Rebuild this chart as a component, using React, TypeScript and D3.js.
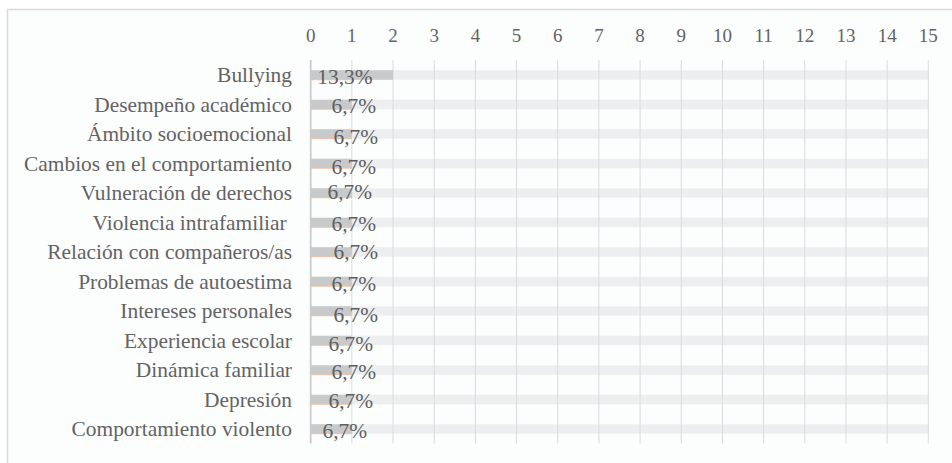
import React from "react";
import * as d3 from "d3";

// Categories (top to bottom) and number of mentions
const categories = [
  "Bullying",
  "Desempeño académico",
  "Ámbito socioemocional",
  "Cambios en el comportamiento",
  "Vulneración de derechos",
  "Violencia intrafamiliar ",
  "Relación con compañeros/as",
  "Problemas de autoestima",
  "Intereses personales",
  "Experiencia escolar",
  "Dinámica familiar",
  "Depresión",
  "Comportamiento violento",
];
const counts = [2, 1, 1, 1, 1, 1, 1, 1, 1, 1, 1, 1, 1];
const percentLabels = [
  "13,3%", "6,7%", "6,7%", "6,7%", "6,7%", "6,7%", "6,7%",
  "6,7%", "6,7%", "6,7%", "6,7%", "6,7%", "6,7%",
];
const axisMax = 15;
const tickValues = d3.range(0, 16);

// Hand-placed label offsets (px) around the end of the first unit
const labelDx = [-7, 2, 4, 2, -2, 2, 4, 2, 4, -1, 2, -1, -7];
const labelDy = [1, 1, 2, 3, -1.5, 1, -1, 1.5, 3, 3, 1, 1, 1];

const W = 952;
const H = 463;
const FONT = '"Liberation Serif", "Times New Roman", Times, "DejaVu Serif", serif';
const TEXT = "#636363";

export default function App() {
  const x = d3.scaleLinear().domain([0, axisMax]).range([310.7, 928.3]);
  const y = d3
    .scaleBand<string>()
    .domain(categories)
    .range([60.25, 443.75])
    .paddingInner(0.68)
    .paddingOuter(0.34);
  const barH = 9.5;
  const gridTop = 60;
  const gridBottom = 443.5;

  return (
    <div style={{ position: "absolute", left: 0, top: 0 }}>
      <svg width={W} height={H} style={{ display: "block", fontFamily: FONT }}>
        <rect x={0} y={0} width={W} height={H} fill="#ffffff" />
        {/* frame */}
        <rect x={7.5} y={9.5} width={W} height={H} fill="#fcfdfd" stroke="#d8dadc" strokeWidth={1.5} />

        {/* tick labels on top */}
        {tickValues.map((t) => (
          <text
            key={"t" + t}
            x={x(t)}
            y={41.5}
            textAnchor="middle"
            fontSize={19}
            fill={TEXT}
          >
            {t}
          </text>
        ))}

        {/* background bars spanning the full axis */}
        {categories.map((c) => {
          const cy = (y(c) as number) + y.bandwidth() / 2;
          return (
            <rect
              key={"bg" + c}
              x={x(0)}
              y={cy - barH / 2}
              width={x(axisMax) - x(0)}
              height={barH}
              fill="#eceef0"
            />
          );
        })}

        {/* gridlines */}
        {tickValues.slice(1).map((t) => (
          <line
            key={"g" + t}
            x1={x(t)}
            x2={x(t)}
            y1={gridTop}
            y2={gridBottom}
            stroke="#d9dbdd"
            strokeWidth={1}
          />
        ))}

        {/* value bars */}
        {categories.map((c, i) => {
          const cy = (y(c) as number) + y.bandwidth() / 2;
          return (
            <g key={"v" + c}>
              <rect
                x={x(0)}
                y={cy - barH / 2}
                width={x(counts[i]) - x(0)}
                height={barH}
                fill="#c8c9cb"
              />
              <line
                x1={x(0)}
                x2={x(Math.min(counts[i], 1))}
                y1={cy + barH / 2}
                y2={cy + barH / 2}
                stroke="#f1c19a"
                strokeWidth={1}
                opacity={0.8}
              />
            </g>
          );
        })}

        {/* zero axis */}
        <line x1={x(0)} x2={x(0)} y1={gridTop} y2={gridBottom} stroke="#c9cbcd" strokeWidth={1.8} />

        {/* category labels */}
        {categories.map((c) => {
          const cy = (y(c) as number) + y.bandwidth() / 2;
          return (
            <text
              key={"c" + c}
              x={292}
              y={cy + 7.3}
              textAnchor="end"
              fontSize={21.4}
              fill={TEXT}
              style={{ whiteSpace: "pre" }}
            >
              {c}
            </text>
          );
        })}

        {/* value labels */}
        {categories.map((c, i) => {
          const cy = (y(c) as number) + y.bandwidth() / 2;
          return (
            <text
              key={"l" + c}
              x={x(1) + labelDx[i]}
              y={cy + 7.6 + labelDy[i]}
              textAnchor="middle"
              fontSize={21.4}
              fill="#5f5f5f"
            >
              {percentLabels[i]}
            </text>
          );
        })}
      </svg>
    </div>
  );
}
